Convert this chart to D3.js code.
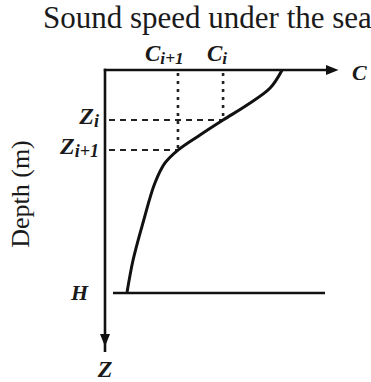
<!DOCTYPE html>
<html>
<head>
<meta charset="utf-8">
<script src="https://cdn.jsdelivr.net/npm/d3@7"></script>
<style>
  body { margin: 0; background: #fff; }
  text { fill: #1a1a1a; }
</style>
</head>
<body>
<div id="chart"></div>
<script>
// sound speed profile (arbitrary units), depth as fraction of H (0..100)
var speed = [73.8, 68.8, 59.2, 49.2, 39.6, 30.4, 25, 20.8, 15.8, 11.7, 9.2];
var depth = [0, 8.1, 15.7, 22.4, 29.1, 35.9, 41.7, 50.7, 68.6, 85.2, 99.6];

var layerNames = ["i", "i+1"];
var layerSpeed = [49.2, 30.4];
var layerDepth = [22.4, 35.9];
var bottomDepth = 100;

var W = 371, H = 382;

var svg = d3.select("#chart").append("svg")
  .attr("width", W)
  .attr("height", H);

var x = d3.scaleLinear().domain([0, 100]).range([105, 345]);
var y = d3.scaleLinear().domain([0, 100]).range([70, 293]);

var defs = svg.append("defs");
defs.append("marker")
  .attr("id", "arr")
  .attr("viewBox", "0 0 10 10")
  .attr("refX", 5).attr("refY", 5)
  .attr("markerWidth", 5).attr("markerHeight", 5)
  .attr("markerUnits", "strokeWidth")
  .attr("orient", "auto")
  .append("path")
  .attr("d", "M0,1 L10,5 L0,9 Z")
  .attr("fill", "#111");

var serif = "Liberation Serif, serif";

// title
svg.append("text")
  .attr("x", 43).attr("y", 28)
  .style("font-family", serif)
  .style("font-size", "31px")
  .text("Sound speed under the sea");

// y axis title
svg.append("text")
  .attr("transform", "translate(29,194) rotate(-90)")
  .attr("text-anchor", "middle")
  .style("font-family", serif)
  .style("font-size", "26px")
  .text("Depth (m)");

// guides
var g = svg.append("g");
layerNames.forEach(function(n, i) {
  g.append("line")
    .attr("x1", x(layerSpeed[i])).attr("x2", x(layerSpeed[i]))
    .attr("y1", y(0) + 3).attr("y2", y(layerDepth[i]))
    .attr("stroke", "#222").attr("stroke-width", 2.6)
    .attr("stroke-dasharray", "3,5");
  g.append("line")
    .attr("x1", x(0) + 4).attr("x2", x(layerSpeed[i]))
    .attr("y1", y(layerDepth[i])).attr("y2", y(layerDepth[i]))
    .attr("stroke", "#222").attr("stroke-width", 2)
    .attr("stroke-dasharray", "6,5");
});

// bottom line
g.append("line")
  .attr("x1", x(0) + 8).attr("x2", 325)
  .attr("y1", y(bottomDepth)).attr("y2", y(bottomDepth))
  .attr("stroke", "#111").attr("stroke-width", 2.4);

// axes
g.append("line")
  .attr("x1", x(0) - 1.2).attr("x2", 332)
  .attr("y1", y(0)).attr("y2", y(0))
  .attr("stroke", "#111").attr("stroke-width", 2.6)
  .attr("marker-end", "url(#arr)");
g.append("line")
  .attr("x1", x(0)).attr("x2", x(0))
  .attr("y1", y(0) - 1.2).attr("y2", 340)
  .attr("stroke", "#111").attr("stroke-width", 2.6)
  .attr("marker-end", "url(#arr)");
g.append("line")
  .attr("x1", x(0)).attr("x2", x(0))
  .attr("y1", 338).attr("y2", 352)
  .attr("stroke", "#111").attr("stroke-width", 2.6);

// profile
var pts = speed.map(function(s, i) { return [s, depth[i]]; });
var line = d3.line()
  .x(function(d) { return x(d[0]); })
  .y(function(d) { return y(d[1]); })
  .curve(d3.curveCatmullRom);
g.append("path")
  .datum(pts)
  .attr("d", line)
  .attr("fill", "none")
  .attr("stroke", "#111")
  .attr("stroke-width", 3);

// labels
function label(px, py, main, sub, anchor, size) {
  var t = svg.append("text")
    .attr("x", px).attr("y", py)
    .attr("text-anchor", anchor)
    .style("font-family", serif)
    .style("font-weight", "bold")
    .style("font-style", "italic")
    .style("font-size", size + "px");
  t.append("tspan").text(main);
  if (sub) {
    t.append("tspan")
      .attr("dy", 3)
      .style("font-size", (size * 0.75) + "px")
      .text(sub);
  }
  return t;
}

label(145, 61, "C", layerNames[1], "start", 23);
label(207, 61, "C", layerNames[0], "start", 23);
label(99, y(layerDepth[0]) + 4, "Z", layerNames[0], "end", 24);
label(99, y(layerDepth[1]) + 4, "Z", layerNames[1], "end", 24);
label(88, y(bottomDepth) + 7, "H", null, "end", 22);
label(x(0), 377, "Z", null, "middle", 24);
label(352, 80, "C", null, "start", 22);
</script>
</body>
</html>
